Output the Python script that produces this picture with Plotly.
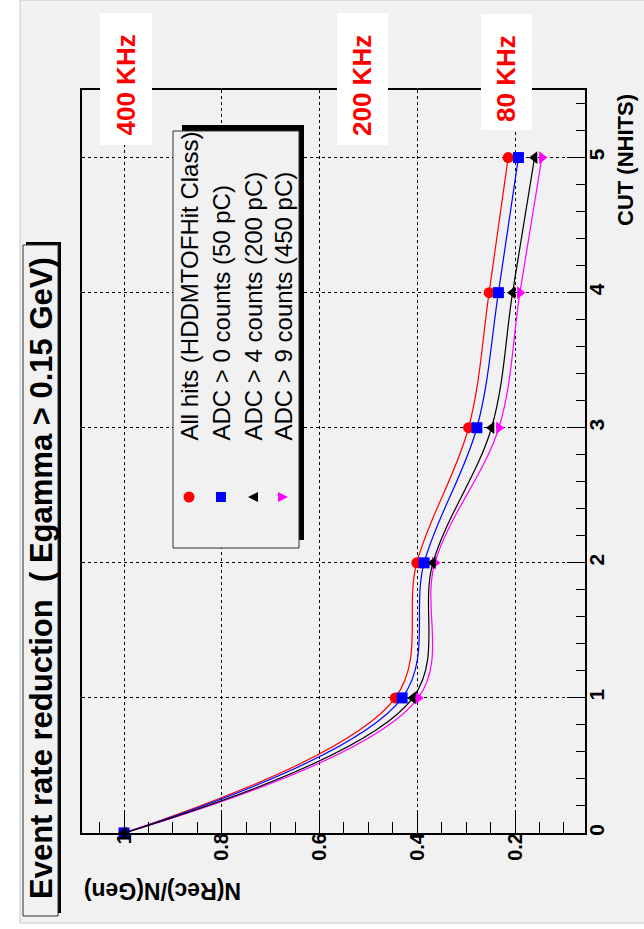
import plotly.graph_objects as go

# ---------------- data ----------------
cut = [0, 1, 2, 3, 4, 5]
all_hits = [1.0, 0.445, 0.401, 0.295, 0.253, 0.214]
adc_gt0 = [1.0, 0.431, 0.386, 0.278, 0.234, 0.193]
adc_gt4 = [1.0, 0.409, 0.368, 0.248, 0.205, 0.160]
adc_gt9 = [1.0, 0.398, 0.364, 0.233, 0.190, 0.145]

series_names = ["All hits (HDDMTOFHit Class)", "ADC > 0 counts (50 pC)",
                "ADC > 4 counts (200 pC)", "ADC > 9 counts (450 pC)"]
series_vals = [all_hits, adc_gt0, adc_gt4, adc_gt9]
series_colors = ["#ff0000", "#0000ff", "#000000", "#ff00ff"]
series_symbols = ["circle", "square", "triangle-left", "triangle-right"]
draw_order = [0, 3, 1, 2]

ratio_ticks = [0.2, 0.4, 0.6, 0.8, 1.0]
ratio_ticktext = ["0.2", "0.4", "0.6", "0.8", "1"]
cut_ticks = [0, 1, 2, 3, 4, 5]
rate_labels = ["400 KHz", "200 KHz", "80 KHz"]

title_text = "Event rate reduction  ( Egamma > 0.15 GeV)"
xtitle = "CUT (NHITS)"
ytitle = "N(Rec)/N(Gen)"

# ---------------- layout geometry (pixels) ----------------
W, H = 644, 929
PL, PR, PT, PB = 82, 585, 90, 833
BG = "#f1f1f1"
FONT = "Liberation Sans"


def px(x):
    return (x - PL) / (PR - PL)


def py(y):
    return (PB - y) / (PB - PT)


fig = go.Figure()

for i in draw_order:
    fig.add_trace(go.Scatter(
        x=series_vals[i], y=cut, mode="lines+markers", name=series_names[i],
        line=dict(color=series_colors[i], width=1.2, shape="spline", smoothing=1.0),
        marker=dict(symbol=series_symbols[i], size=11, color=series_colors[i],
                    line=dict(width=0)),
        cliponaxis=False, showlegend=False, hoverinfo="skip",
    ))

shapes = []
annotations = []

# canvas grey area
shapes.append(dict(type="rect", xref="paper", yref="paper", x0=px(20), x1=px(650),
                   y0=py(923), y1=py(0), fillcolor=BG,
                   line=dict(color="#c8c8c8", width=1), layer="below"))

# title box with shadow (shadow on right/top)
shapes.append(dict(type="rect", xref="paper", yref="paper", x0=px(26), x1=px(61),
                   y0=py(913), y1=py(242), fillcolor="black", line=dict(width=0), layer="above"))
shapes.append(dict(type="rect", xref="paper", yref="paper", x0=px(23), x1=px(58),
                   y0=py(916), y1=py(245), fillcolor=BG,
                   line=dict(color="#333333", width=1), layer="above"))
annotations.append(dict(xref="paper", yref="paper", x=px(41), y=py(578),
                        text=title_text, textangle=-90, showarrow=False,
                        font=dict(family=FONT, size=31, color="black", weight="bold"),
                        xanchor="center", yanchor="middle"))

# legend box with shadow
shapes.append(dict(type="rect", xref="paper", yref="paper", x0=px(182), x1=px(304),
                   y0=py(540), y1=py(125), fillcolor="black", line=dict(width=0), layer="above"))
shapes.append(dict(type="rect", xref="paper", yref="paper", x0=px(173), x1=px(299),
                   y0=py(548), y1=py(131), fillcolor=BG,
                   line=dict(color="#333333", width=1), layer="above"))
leg_x = [189, 221, 253, 283]
leg_y = 497
r = 5.5
for i, lx in enumerate(leg_x):
    c = series_colors[i]
    if i == 0:
        shapes.append(dict(type="circle", xref="paper", yref="paper",
                           x0=px(lx - r), x1=px(lx + r), y0=py(leg_y + r), y1=py(leg_y - r),
                           fillcolor=c, line=dict(width=0), layer="above"))
    elif i == 1:
        shapes.append(dict(type="rect", xref="paper", yref="paper",
                           x0=px(lx - 5), x1=px(lx + 5), y0=py(leg_y + 5), y1=py(leg_y - 5),
                           fillcolor=c, line=dict(width=0), layer="above"))
    elif i == 2:
        path = "M {} {} L {} {} L {} {} Z".format(px(lx - 5), py(leg_y), px(lx + 5), py(leg_y - 5),
                                                  px(lx + 5), py(leg_y + 5))
        shapes.append(dict(type="path", xref="paper", yref="paper", path=path,
                           fillcolor=c, line=dict(width=0), layer="above"))
    else:
        path = "M {} {} L {} {} L {} {} Z".format(px(lx + 5), py(leg_y), px(lx - 5), py(leg_y - 5),
                                                  px(lx - 5), py(leg_y + 5))
        shapes.append(dict(type="path", xref="paper", yref="paper", path=path,
                           fillcolor=c, line=dict(width=0), layer="above"))
    annotations.append(dict(xref="paper", yref="paper", x=px(lx), y=py(443),
                            text=series_names[i], textangle=-90, showarrow=False,
                            font=dict(family=FONT, size=24, color="black"),
                            xanchor="center", yanchor="bottom"))

# rate labels (white boxes, red bold text)
rate_boxes = [(100, 152, 13, 145), (337, 388, 13, 145), (481, 532, 14, 130)]
for lab, (x0, x1, y0, y1) in zip(rate_labels, rate_boxes):
    shapes.append(dict(type="rect", xref="paper", yref="paper", x0=px(x0), x1=px(x1),
                       y0=py(y1), y1=py(y0), fillcolor="white", line=dict(width=0), layer="above"))
    annotations.append(dict(xref="paper", yref="paper", x=px((x0 + x1) / 2), y=py(33),
                            text=lab, textangle=-90, showarrow=False,
                            font=dict(family=FONT, size=26, color="#ff0000", weight="bold"),
                            xanchor="center", yanchor="top"))

# axis titles
annotations.append(dict(xref="paper", yref="paper", x=px(625), y=py(92),
                        text=xtitle, textangle=-90, showarrow=False,
                        font=dict(family=FONT, size=22, color="black", weight="bold"),
                        xanchor="center", yanchor="top"))
annotations.append(dict(xref="paper", yref="paper", x=px(82), y=py(891),
                        text=ytitle, textangle=180, showarrow=False,
                        font=dict(family=FONT, size=23, color="black", weight="bold"),
                        xanchor="left", yanchor="middle"))

fig.update_layout(
    width=W, height=H,
    margin=dict(l=PL, r=W - PR, t=PT, b=H - PB, pad=0),
    paper_bgcolor="white", plot_bgcolor=BG,
    shapes=shapes, annotations=annotations, showlegend=False, hovermode=False,
    xaxis=dict(range=[1.086, 0.0568], tickvals=ratio_ticks, ticktext=ratio_ticktext,
               ticks="inside", ticklen=22, tickwidth=1, tickcolor="black",
               tickangle=-90, tickfont=dict(family=FONT, size=20, color="black", weight="bold"),
               showgrid=True, gridcolor="black", griddash="dot", gridwidth=1,
               showline=True, linecolor="black", linewidth=2, mirror=True,
               zeroline=False, ticklabelstandoff=-10,
               minor=dict(dtick=0.05, tick0=0, ticks="inside", ticklen=11,
                          tickcolor="black", tickwidth=1, showgrid=False)),
    yaxis=dict(range=[0, 5.5], tickvals=cut_ticks, side="right",
               ticks="inside", ticklen=18, tickwidth=1, tickcolor="black",
               tickangle=-90, tickfont=dict(family=FONT, size=21, color="black", weight="bold"),
               showgrid=True, gridcolor="black", griddash="dot", gridwidth=1,
               showline=True, linecolor="black", linewidth=2, mirror=True,
               zeroline=False, ticklabelstandoff=-8,
               minor=dict(dtick=0.2, tick0=0, ticks="inside", ticklen=9,
                          tickcolor="black", tickwidth=1, showgrid=False)),
)

fig.write_html("out.html", config={"displayModeBar": False},
               post_script="document.body.style.margin='0';document.body.style.padding='0';")
